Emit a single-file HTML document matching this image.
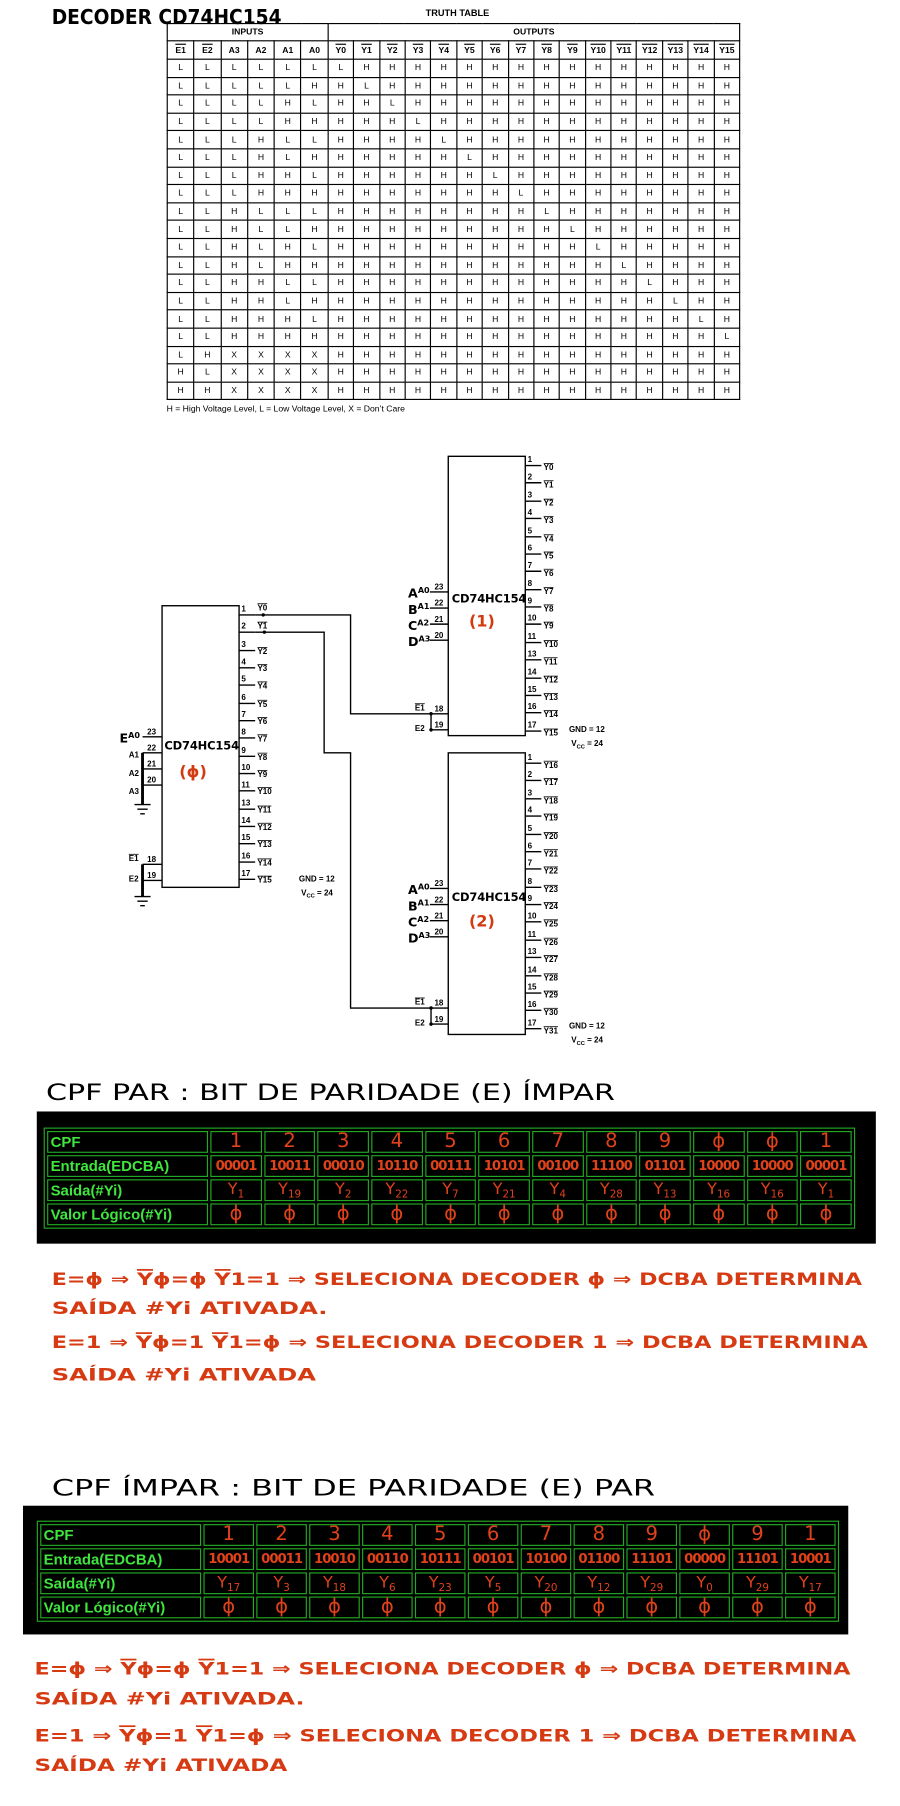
<!DOCTYPE html>
<html><head><meta charset="utf-8">
<style>
html,body{margin:0;padding:0;background:#fff;width:900px;height:1806px;overflow:hidden}
#w{position:absolute;left:0;top:0;width:783px;height:1571px;transform:scale(1.1494);transform-origin:0 0;font-family:"Liberation Sans",sans-serif}
.tt{position:absolute;left:145px;top:20px;width:498px;border-collapse:collapse;border:1.5px solid #000;table-layout:fixed}
.tt td{border:1px solid #000;text-align:center;font-size:7.5px;height:14.6px;padding:0;line-height:10px}
.tt tr.h td{font-weight:bold;height:14px}
.tt tr.c td{font-weight:bold;border-bottom:1.5px solid #000;height:15px}
.o{text-decoration:overline}
.bb{position:absolute;background:#000}
.gt{position:absolute;border:1px solid #22aa22;border-spacing:2px;table-layout:fixed}
.gt td{border:1px solid #22aa22;height:17px;padding:0;text-align:center;color:#e0421a;font-family:"DejaVu Sans",sans-serif;font-size:17px;line-height:17px;overflow:hidden;white-space:nowrap}
.gt td.l{text-align:left;color:#3ee63e;font-family:"Liberation Sans",sans-serif;font-weight:bold;font-size:13px;padding-left:2px}
.gt td.e{font-size:11.5px;letter-spacing:-0.9px;font-weight:bold}
.gt td.s{font-size:14px}
.gt td.s sub{font-size:9px;line-height:0;vertical-align:-3px}
</style></head><body><div id="w">
<svg width="783" height="1571" viewBox="0 0 783 1571" style="position:absolute;left:0;top:0" font-family="Liberation Sans,sans-serif">
<text x="45" y="21" font-size="18" font-weight="bold" textLength="200" lengthAdjust="spacingAndGlyphs" font-family="DejaVu Sans,sans-serif">DECODER CD74HC154</text>
<text x="398" y="14" font-size="8" font-weight="bold" text-anchor="middle">TRUTH TABLE</text>
<text x="145" y="358" font-size="7.5">H = High Voltage Level, L = Low Voltage Level, X = Don’t Care</text>

<g stroke="#000" stroke-width="1.2" fill="none">
<rect x="141" y="527" width="67" height="245"/>
<rect x="390" y="397" width="67" height="243"/>
<rect x="390" y="655" width="67" height="245"/>
<polyline points="222,535 305,535 305,621 375,621"/>
<polyline points="222,550 282,550 282,655 305,655 305,877 375,877"/>
<path d="M208 535h14M208 550h14M208 566h14M208 581h14M208 596h14M208 612h14M208 627h14M208 642h14M208 658h14M208 673h14M208 688h14M208 704h14M208 719h14M208 734h14M208 750h14M208 765h14"/>
<path d="M457 405h14M457 420h14M457 436h14M457 451h14M457 467h14M457 482h14M457 497h14M457 513h14M457 528h14M457 543h14M457 559h14M457 574h14M457 590h14M457 605h14M457 620h14M457 636h14"/>
<path d="M457 664h14M457 679h14M457 695h14M457 710h14M457 726h14M457 741h14M457 756h14M457 772h14M457 787h14M457 802h14M457 818h14M457 833h14M457 849h14M457 864h14M457 879h14M457 895h14"/>
<path d="M124 641h17M124 655h17M124 669h17M124 683h17M124 752h17M124 766h17"/>
<path d="M374 515h16M374 529h16M374 543h16M374 557h16M375 621h15M375 635h15"/>
<path d="M374 773h16M374 787h16M374 801h16M374 815h16M375 877h15M375 891h15"/>
<path d="M375 621v14M375 877v14"/>
<path d="M124 655v45M124 752v28" stroke-width="2.5"/>
<path d="M117 700h14M119.5 704h9M122 708h4M117 780h14M119.5 784h9M122 788h4"/>
</g>
<g fill="#000"><circle cx="229" cy="535" r="1.5"/><circle cx="230" cy="550" r="1.5"/><circle cx="375" cy="621" r="1.5"/><circle cx="375" cy="635" r="1.5"/><circle cx="375" cy="877" r="1.5"/><circle cx="375" cy="891" r="1.5"/></g>

<g font-size="7" font-weight="bold">
<g>
<text x="210" y="532">1</text><text x="210" y="547">2</text><text x="210" y="563">3</text><text x="210" y="578">4</text><text x="210" y="593">5</text><text x="210" y="609">6</text><text x="210" y="624">7</text><text x="210" y="639">8</text><text x="210" y="655">9</text><text x="210" y="670">10</text><text x="210" y="685">11</text><text x="210" y="701">13</text><text x="210" y="716">14</text><text x="210" y="731">15</text><text x="210" y="747">16</text><text x="210" y="762">17</text>
</g>
<g text-decoration="overline">
<text x="224" y="531">Y0</text><text x="224" y="547">Y1</text><text x="224" y="569">Y2</text><text x="224" y="584">Y3</text><text x="224" y="599">Y4</text><text x="224" y="615">Y5</text><text x="224" y="630">Y6</text><text x="224" y="645">Y7</text><text x="224" y="661">Y8</text><text x="224" y="676">Y9</text><text x="224" y="691">Y10</text><text x="224" y="707">Y11</text><text x="224" y="722">Y12</text><text x="224" y="737">Y13</text><text x="224" y="753">Y14</text><text x="224" y="768">Y15</text>
</g>
<g>
<text x="459" y="402">1</text><text x="459" y="417">2</text><text x="459" y="433">3</text><text x="459" y="448">4</text><text x="459" y="464">5</text><text x="459" y="479">6</text><text x="459" y="494">7</text><text x="459" y="510">8</text><text x="459" y="525">9</text><text x="459" y="540">10</text><text x="459" y="556">11</text><text x="459" y="571">13</text><text x="459" y="587">14</text><text x="459" y="602">15</text><text x="459" y="617">16</text><text x="459" y="633">17</text>
</g>
<g text-decoration="overline">
<text x="473" y="409">Y0</text><text x="473" y="424">Y1</text><text x="473" y="440">Y2</text><text x="473" y="455">Y3</text><text x="473" y="471">Y4</text><text x="473" y="486">Y5</text><text x="473" y="501">Y6</text><text x="473" y="517">Y7</text><text x="473" y="532">Y8</text><text x="473" y="547">Y9</text><text x="473" y="563">Y10</text><text x="473" y="578">Y11</text><text x="473" y="594">Y12</text><text x="473" y="609">Y13</text><text x="473" y="624">Y14</text><text x="473" y="640">Y15</text>
</g>
<g>
<text x="459" y="661">1</text><text x="459" y="676">2</text><text x="459" y="692">3</text><text x="459" y="707">4</text><text x="459" y="723">5</text><text x="459" y="738">6</text><text x="459" y="753">7</text><text x="459" y="769">8</text><text x="459" y="784">9</text><text x="459" y="799">10</text><text x="459" y="815">11</text><text x="459" y="830">13</text><text x="459" y="846">14</text><text x="459" y="861">15</text><text x="459" y="876">16</text><text x="459" y="892">17</text>
</g>
<g text-decoration="overline">
<text x="473" y="668">Y16</text><text x="473" y="683">Y17</text><text x="473" y="699">Y18</text><text x="473" y="714">Y19</text><text x="473" y="730">Y20</text><text x="473" y="745">Y21</text><text x="473" y="760">Y22</text><text x="473" y="776">Y23</text><text x="473" y="791">Y24</text><text x="473" y="806">Y25</text><text x="473" y="822">Y26</text><text x="473" y="837">Y27</text><text x="473" y="853">Y28</text><text x="473" y="868">Y29</text><text x="473" y="883">Y30</text><text x="473" y="899">Y31</text>
</g>
<text x="128" y="639">23</text><text x="128" y="653">22</text><text x="128" y="667">21</text><text x="128" y="681">20</text><text x="128" y="750">18</text><text x="128" y="764">19</text>
<text x="378" y="513">23</text><text x="378" y="527">22</text><text x="378" y="541">21</text><text x="378" y="555">20</text><text x="378" y="619">18</text><text x="378" y="633">19</text>
<text x="378" y="771">23</text><text x="378" y="785">22</text><text x="378" y="799">21</text><text x="378" y="813">20</text><text x="378" y="875">18</text><text x="378" y="889">19</text>
<text x="112" y="749" text-decoration="overline">E1</text><text x="112" y="767">E2</text>
<text x="361" y="618" text-decoration="overline">E1</text><text x="361" y="636">E2</text>
<text x="361" y="874" text-decoration="overline">E1</text><text x="361" y="892">E2</text>
<text x="112" y="659">A1</text><text x="112" y="675">A2</text><text x="112" y="691">A3</text>
<text x="495" y="637">GND = 12</text><text x="497" y="649">V<tspan font-size="5" dy="2">CC</tspan><tspan dy="-2"> = 24</tspan></text>
<text x="260" y="767">GND = 12</text><text x="262" y="779">V<tspan font-size="5" dy="2">CC</tspan><tspan dy="-2"> = 24</tspan></text>
<text x="495" y="895">GND = 12</text><text x="497" y="907">V<tspan font-size="5" dy="2">CC</tspan><tspan dy="-2"> = 24</tspan></text>
</g>
<g font-weight="bold" font-size="11" font-family="DejaVu Sans,sans-serif">
<text x="104" y="646">E<tspan font-size="7" dy="-4">A0</tspan></text>
<text x="355" y="520">A<tspan font-size="7" dy="-4">A0</tspan></text><text x="355" y="534">B<tspan font-size="7" dy="-4">A1</tspan></text><text x="355" y="548">C<tspan font-size="7" dy="-4">A2</tspan></text><text x="355" y="562">D<tspan font-size="7" dy="-4">A3</tspan></text>
<text x="355" y="778">A<tspan font-size="7" dy="-4">A0</tspan></text><text x="355" y="792">B<tspan font-size="7" dy="-4">A1</tspan></text><text x="355" y="806">C<tspan font-size="7" dy="-4">A2</tspan></text><text x="355" y="820">D<tspan font-size="7" dy="-4">A3</tspan></text>
<text x="143" y="652" font-size="10" textLength="65">CD74HC154</text>
<text x="393" y="524" font-size="10" textLength="65">CD74HC154</text>
<text x="393" y="784" font-size="10" textLength="65">CD74HC154</text>
</g>
<g fill="#d33a10" font-size="14" font-weight="bold" font-family="DejaVu Sans,sans-serif">
<text x="156" y="676">(ϕ)</text><text x="408" y="545">(1)</text><text x="408" y="806">(2)</text>
</g>

<g font-family="DejaVu Sans,sans-serif">
<text x="40" y="957" font-size="19" textLength="495" lengthAdjust="spacingAndGlyphs">CPF PAR :  BIT DE PARIDADE (E) ÍMPAR</text>
<text x="45" y="1301" font-size="19" textLength="525" lengthAdjust="spacingAndGlyphs">CPF ÍMPAR :  BIT DE PARIDADE (E) PAR</text>
</g>
<g fill="#d63a12" font-family="DejaVu Sans,sans-serif" font-size="15" font-weight="bold">
<text x="45" y="1118" textLength="705" lengthAdjust="spacingAndGlyphs">E=ϕ ⇒ <tspan text-decoration="overline">Y</tspan>ϕ=ϕ  <tspan text-decoration="overline">Y</tspan>1=1 ⇒ SELECIONA DECODER ϕ ⇒ DCBA DETERMINA</text>
<text x="45" y="1143" textLength="240" lengthAdjust="spacingAndGlyphs">SAÍDA #Yi ATIVADA.</text>
<text x="45" y="1173" textLength="710" lengthAdjust="spacingAndGlyphs">E=1 ⇒ <tspan text-decoration="overline">Y</tspan>ϕ=1  <tspan text-decoration="overline">Y</tspan>1=ϕ ⇒ SELECIONA DECODER 1 ⇒ DCBA DETERMINA</text>
<text x="45" y="1201" textLength="230" lengthAdjust="spacingAndGlyphs">SAÍDA #Yi ATIVADA</text>
<text x="30" y="1457" textLength="710" lengthAdjust="spacingAndGlyphs">E=ϕ ⇒ <tspan text-decoration="overline">Y</tspan>ϕ=ϕ  <tspan text-decoration="overline">Y</tspan>1=1 ⇒ SELECIONA DECODER ϕ ⇒ DCBA DETERMINA</text>
<text x="30" y="1483" textLength="235" lengthAdjust="spacingAndGlyphs">SAÍDA #Yi ATIVADA.</text>
<text x="30" y="1515" textLength="715" lengthAdjust="spacingAndGlyphs">E=1 ⇒ <tspan text-decoration="overline">Y</tspan>ϕ=1  <tspan text-decoration="overline">Y</tspan>1=ϕ ⇒ SELECIONA DECODER 1 ⇒ DCBA DETERMINA</text>
<text x="30" y="1541" textLength="220" lengthAdjust="spacingAndGlyphs">SAÍDA #Yi ATIVADA</text>
</g>
</svg>

<table class="tt">
<colgroup><col span="6" style="width:23.3px"><col span="16" style="width:22.4px"></colgroup>
<tr class="h"><td colspan="6">INPUTS</td><td colspan="16">OUTPUTS</td></tr>
<tr class="c"><td><span class="o">E1</span><td><span class="o">E2</span><td>A3<td>A2<td>A1<td>A0<td><span class="o">Y0</span><td><span class="o">Y1</span><td><span class="o">Y2</span><td><span class="o">Y3</span><td><span class="o">Y4</span><td><span class="o">Y5</span><td><span class="o">Y6</span><td><span class="o">Y7</span><td><span class="o">Y8</span><td><span class="o">Y9</span><td><span class="o">Y10</span><td><span class="o">Y11</span><td><span class="o">Y12</span><td><span class="o">Y13</span><td><span class="o">Y14</span><td><span class="o">Y15</span></tr>
<tr><td>L<td>L<td>L<td>L<td>L<td>L<td>L<td>H<td>H<td>H<td>H<td>H<td>H<td>H<td>H<td>H<td>H<td>H<td>H<td>H<td>H<td>H</tr>
<tr><td>L<td>L<td>L<td>L<td>L<td>H<td>H<td>L<td>H<td>H<td>H<td>H<td>H<td>H<td>H<td>H<td>H<td>H<td>H<td>H<td>H<td>H</tr>
<tr><td>L<td>L<td>L<td>L<td>H<td>L<td>H<td>H<td>L<td>H<td>H<td>H<td>H<td>H<td>H<td>H<td>H<td>H<td>H<td>H<td>H<td>H</tr>
<tr><td>L<td>L<td>L<td>L<td>H<td>H<td>H<td>H<td>H<td>L<td>H<td>H<td>H<td>H<td>H<td>H<td>H<td>H<td>H<td>H<td>H<td>H</tr>
<tr><td>L<td>L<td>L<td>H<td>L<td>L<td>H<td>H<td>H<td>H<td>L<td>H<td>H<td>H<td>H<td>H<td>H<td>H<td>H<td>H<td>H<td>H</tr>
<tr><td>L<td>L<td>L<td>H<td>L<td>H<td>H<td>H<td>H<td>H<td>H<td>L<td>H<td>H<td>H<td>H<td>H<td>H<td>H<td>H<td>H<td>H</tr>
<tr><td>L<td>L<td>L<td>H<td>H<td>L<td>H<td>H<td>H<td>H<td>H<td>H<td>L<td>H<td>H<td>H<td>H<td>H<td>H<td>H<td>H<td>H</tr>
<tr><td>L<td>L<td>L<td>H<td>H<td>H<td>H<td>H<td>H<td>H<td>H<td>H<td>H<td>L<td>H<td>H<td>H<td>H<td>H<td>H<td>H<td>H</tr>
<tr><td>L<td>L<td>H<td>L<td>L<td>L<td>H<td>H<td>H<td>H<td>H<td>H<td>H<td>H<td>L<td>H<td>H<td>H<td>H<td>H<td>H<td>H</tr>
<tr><td>L<td>L<td>H<td>L<td>L<td>H<td>H<td>H<td>H<td>H<td>H<td>H<td>H<td>H<td>H<td>L<td>H<td>H<td>H<td>H<td>H<td>H</tr>
<tr><td>L<td>L<td>H<td>L<td>H<td>L<td>H<td>H<td>H<td>H<td>H<td>H<td>H<td>H<td>H<td>H<td>L<td>H<td>H<td>H<td>H<td>H</tr>
<tr><td>L<td>L<td>H<td>L<td>H<td>H<td>H<td>H<td>H<td>H<td>H<td>H<td>H<td>H<td>H<td>H<td>H<td>L<td>H<td>H<td>H<td>H</tr>
<tr><td>L<td>L<td>H<td>H<td>L<td>L<td>H<td>H<td>H<td>H<td>H<td>H<td>H<td>H<td>H<td>H<td>H<td>H<td>L<td>H<td>H<td>H</tr>
<tr><td>L<td>L<td>H<td>H<td>L<td>H<td>H<td>H<td>H<td>H<td>H<td>H<td>H<td>H<td>H<td>H<td>H<td>H<td>H<td>L<td>H<td>H</tr>
<tr><td>L<td>L<td>H<td>H<td>H<td>L<td>H<td>H<td>H<td>H<td>H<td>H<td>H<td>H<td>H<td>H<td>H<td>H<td>H<td>H<td>L<td>H</tr>
<tr><td>L<td>L<td>H<td>H<td>H<td>H<td>H<td>H<td>H<td>H<td>H<td>H<td>H<td>H<td>H<td>H<td>H<td>H<td>H<td>H<td>H<td>L</tr>
<tr><td>L<td>H<td>X<td>X<td>X<td>X<td>H<td>H<td>H<td>H<td>H<td>H<td>H<td>H<td>H<td>H<td>H<td>H<td>H<td>H<td>H<td>H</tr>
<tr><td>H<td>L<td>X<td>X<td>X<td>X<td>H<td>H<td>H<td>H<td>H<td>H<td>H<td>H<td>H<td>H<td>H<td>H<td>H<td>H<td>H<td>H</tr>
<tr><td>H<td>H<td>X<td>X<td>X<td>X<td>H<td>H<td>H<td>H<td>H<td>H<td>H<td>H<td>H<td>H<td>H<td>H<td>H<td>H<td>H<td>H</tr>
</table>

<div class="bb" style="left:32px;top:967px;width:730px;height:115px"></div>
<table class="gt" style="left:38px;top:981px;width:706px">
<colgroup><col style="width:140px"><col span="12"></colgroup>
<tr><td class="l">CPF<td>1<td>2<td>3<td>4<td>5<td>6<td>7<td>8<td>9<td>ϕ<td>ϕ<td>1</tr>
<tr><td class="l">Entrada(EDCBA)<td class="e">00001<td class="e">10011<td class="e">00010<td class="e">10110<td class="e">00111<td class="e">10101<td class="e">00100<td class="e">11100<td class="e">01101<td class="e">10000<td class="e">10000<td class="e">00001</tr>
<tr><td class="l">Saída(#Yi)<td class="s"><span class="o">Y</span><sub>1</sub><td class="s"><span class="o">Y</span><sub>19</sub><td class="s"><span class="o">Y</span><sub>2</sub><td class="s"><span class="o">Y</span><sub>22</sub><td class="s"><span class="o">Y</span><sub>7</sub><td class="s"><span class="o">Y</span><sub>21</sub><td class="s"><span class="o">Y</span><sub>4</sub><td class="s"><span class="o">Y</span><sub>28</sub><td class="s"><span class="o">Y</span><sub>13</sub><td class="s"><span class="o">Y</span><sub>16</sub><td class="s"><span class="o">Y</span><sub>16</sub><td class="s"><span class="o">Y</span><sub>1</sub></tr>
<tr><td class="l">Valor Lógico(#Yi)<td>ϕ<td>ϕ<td>ϕ<td>ϕ<td>ϕ<td>ϕ<td>ϕ<td>ϕ<td>ϕ<td>ϕ<td>ϕ<td>ϕ</tr>
</table>

<div class="bb" style="left:20px;top:1310px;width:718px;height:112px"></div>
<table class="gt" style="left:32px;top:1323px;width:698px">
<colgroup><col style="width:140px"><col span="12"></colgroup>
<tr><td class="l">CPF<td>1<td>2<td>3<td>4<td>5<td>6<td>7<td>8<td>9<td>ϕ<td>9<td>1</tr>
<tr><td class="l">Entrada(EDCBA)<td class="e">10001<td class="e">00011<td class="e">10010<td class="e">00110<td class="e">10111<td class="e">00101<td class="e">10100<td class="e">01100<td class="e">11101<td class="e">00000<td class="e">11101<td class="e">10001</tr>
<tr><td class="l">Saída(#Yi)<td class="s"><span class="o">Y</span><sub>17</sub><td class="s"><span class="o">Y</span><sub>3</sub><td class="s"><span class="o">Y</span><sub>18</sub><td class="s"><span class="o">Y</span><sub>6</sub><td class="s"><span class="o">Y</span><sub>23</sub><td class="s"><span class="o">Y</span><sub>5</sub><td class="s"><span class="o">Y</span><sub>20</sub><td class="s"><span class="o">Y</span><sub>12</sub><td class="s"><span class="o">Y</span><sub>29</sub><td class="s"><span class="o">Y</span><sub>0</sub><td class="s"><span class="o">Y</span><sub>29</sub><td class="s"><span class="o">Y</span><sub>17</sub></tr>
<tr><td class="l">Valor Lógico(#Yi)<td>ϕ<td>ϕ<td>ϕ<td>ϕ<td>ϕ<td>ϕ<td>ϕ<td>ϕ<td>ϕ<td>ϕ<td>ϕ<td>ϕ</tr>
</table>
</div></body></html>
